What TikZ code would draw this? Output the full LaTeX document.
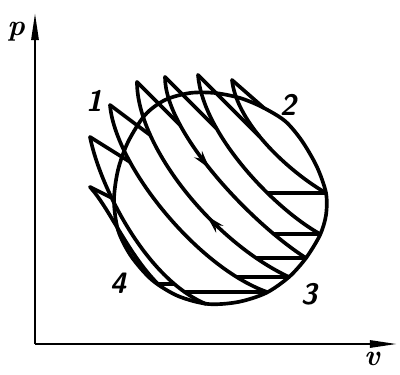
\documentclass[tikz,border=0pt]{standalone}
\usepackage{tikz}
\usetikzlibrary{
  arrows.meta,
  intersections,
  decorations.markings
}
\tikzset{
  curve/.style={line width=2.6pt, line join=round, line cap=round},
  axis/.style={line width=2pt, -{Triangle[length=20pt,width=5pt]}},
  lbl/.style={font=\fontsize{21}{21}\selectfont\sffamily\bfseries\slshape, inner sep=0pt},
  axlbl/.style={font=\fontsize{21}{21}\selectfont\bfseries\itshape, inner sep=0pt},
  flowarrow/.style={postaction={decorate, decoration={markings,
      mark=at position #1 with {\arrow{Stealth[length=13pt,width=7pt]}}}}},
  backarrow/.style={postaction={decorate, decoration={markings,
      mark=at position #1 with {\arrowreversed{Stealth[length=13pt,width=7pt]}}}}},
}

\begin{document}
\begin{tikzpicture}[x=0.025cm, y=-0.025cm]
\useasboundingbox (0,0) rectangle (400,374);

% axes
\coordinate (O) at (35,344);
\coordinate (ptop) at (35,12);
\coordinate (vend) at (398,344);
\draw[axis] (O) -- (ptop);
\draw[axis] (O) -- (vend);
\node[axlbl] (plabel) at (16,32) {p};
\node[axlbl] (vlabel) at (372,359) {v};

% the cycle
\draw[curve, name path=cyc] plot[smooth cycle] coordinates {
  (114,200) (118,170) (128,142) (145,115) (165,100) (190,93) (215,93) (240,98)
  (262,107) (285,121) (302,141) (317,167) (326,193) (326,215) (320,235) (306,258)
  (289,277) (266,293) (238,302) (208,304) (178,296) (152,280) (131,256) (118,230)};

% tops and ends of the adiabats
\foreach \i/\s/\e in {1/{90,187}/{158,284}, 2/{90,137}/{206,304}, 3/{110,105}/{267,292},
    4/{137,82}/{289,277}, 5/{165,77}/{306,258}, 6/{198,75}/{320,234}, 7/{232,80}/{326,193}}{
  \coordinate (s\i) at (\s);
  \coordinate (e\i) at (\e);
}

% adiabats
\draw[curve, name path=ad1] (s1) .. controls +(20,22) and +(-30,-30) .. (e1);
\draw[curve, name path=ad2] (s2) .. controls +(10,50) and +(-60,-25) .. (e2);
\draw[curve, name path=ad3] (s3) .. controls +(5,60) and +(-70,-25) .. (e3);
\draw[curve, name path=ad4, backarrow=0.6] (s4) .. controls +(0,65) and +(-75,-35) .. (e4);
\draw[curve, name path=ad5, flowarrow=0.44] (s5) .. controls +(0,55) and +(-55,-35) .. (e5);
\draw[curve, name path=ad6] (s6) .. controls +(5,60) and +(-45,-25) .. (e6);
\draw[curve, name path=ad7] (s7) .. controls +(5,45) and +(-35,-20) .. (e7);

% upper isotherms
\foreach \i/\j/\d in {1/2/{80,40}, 2/3/{80,50}, 3/4/{80,60}, 4/5/{80,80}, 5/6/{80,80}, 6/7/{80,80}}{
  \path[name path=probe] (s\i) -- ++(\d);
  \draw[curve, name intersections={of=probe and ad\j, by=t\i, sort by=probe}] (s\i) -- (t\i);
}
\path[name path=probe] (s7) -- ++(80,70);
\draw[curve, name intersections={of=probe and cyc, by=t7, sort by=probe}] (s7) -- (t7);

% lower isotherms
\foreach \i/\j in {7/6, 6/5, 5/4, 4/3, 3/2}{
  \path[name path=probe] (e\i) -- ++(-160,0);
  \draw[curve, name intersections={of=probe and ad\j, by=b\i}] (e\i) -- (b\i);
}
\path[name path=probe] (e1) -- ++(120,0);
\draw[curve, name intersections={of=probe and ad2, by=b1}] (e1) -- (b1);

% state labels
\node[lbl] (n1) at (94,101) {1};
\node[lbl] (n2) at (288,105) {2};
\node[lbl] (n3) at (309,294) {3};
\node[lbl] (n4) at (118,283) {4};

\end{tikzpicture}
\end{document}
